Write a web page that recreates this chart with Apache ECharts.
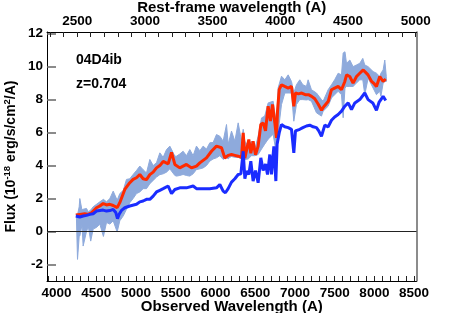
<!DOCTYPE html>
<html><head><meta charset="utf-8">
<script src="https://cdn.jsdelivr.net/npm/echarts@6/dist/echarts.min.js"></script>
<style>html,body{margin:0;padding:0;background:#fff}#c{width:463px;height:313px}</style>
</head><body><div id="c"></div>
<script>
const redshift = 0.704;
const obsMin = 3880, obsMax = 8530;
const obsLabels = [4000,4500,5000,5500,6000,6500,7000,7500,8000,8500];
const restLabels = [2500,3000,3500,4000,4500,5000];
const yLabels = [-2,0,2,4,6,8,10,12];

const bandWave = [4250,4264,4285,4293,4320,4335,4377,4400,4430,4461,4503,4545,4590,4629,4671,4713,4763,4796,4840,4880,4922,4964,5006,5048,5090,5132,5174,5216,5258,5300,5342,5384,5426,5489,5510,5551,5593,5635,5677,5719,5761,5803,5845,5887,5929,5971,6013,6055,6097,6139,6160,6181,6202,6244,6286,6328,6349,6370,6412,6454,6496,6537,6580,6620,6663,6726,6768,6789,6831,6873,6915,6957,6986,7019,7061,7100,7145,7166,7208,7271,7334,7355,7418,7460,7500,7544,7586,7607,7630,7649,7691,7732,7774,7816,7854,7879,7921,7984,8026,8068,8082,8110,8131,8150];
const bandLow = [0.9,-1.69,-0.3,-0.27,0.4,-0.88,0.0,0.3,-0.58,0.15,0.25,0.45,-0.3,0.55,0.45,0.65,-0.03,0.65,0.95,1.35,1.75,2.0,2.3,2.4,2.6,2.6,2.9,3.1,3.3,3.45,3.5,3.6,3.8,3.4,3.36,3.4,3.46,3.4,3.36,3.5,3.76,3.8,3.86,4.0,4.27,4.4,4.47,4.6,4.37,4.5,4.4,4.5,4.55,4.5,4.5,4.4,4.6,4.37,4.4,4.6,4.6,4.67,5.0,5.3,5.6,5.9,4.67,6.0,7.7,8.4,8.4,8.4,6.69,7.7,8.0,8.0,7.98,8.0,7.9,7.2,7.0,7.3,7.6,8.1,8.3,8.5,8.3,6.9,8.7,8.8,8.8,8.8,9.0,9.2,9.2,8.3,9.3,8.7,8.3,8.5,8.2,9.0,9.1,9.1];
const bandHigh = [1.05,1.0,1.5,2.0,1.3,1.35,1.4,1.2,1.3,1.5,1.65,1.8,1.95,1.8,2.0,2.45,1.9,2.3,2.5,3.16,3.2,3.46,3.7,3.97,3.75,3.55,4.37,4.0,4.17,4.77,4.5,4.97,5.18,4.57,4.57,4.7,4.87,4.6,4.97,4.6,5.18,4.9,5.18,5.0,5.38,5.4,5.88,5.78,5.48,6.49,5.3,5.68,6.09,5.48,6.59,5.48,6.2,5.48,5.18,5.48,4.98,5.78,6.89,7.0,7.8,7.9,6.49,8.71,9.42,9.2,9.5,9.1,8.4,8.9,9.2,8.9,8.8,9.2,8.6,8.4,8.0,7.9,8.6,8.9,9.2,9.6,9.5,10.83,10.9,10.2,10.4,10.0,10.1,10.2,10.5,10.1,10.0,9.7,9.6,9.4,9.6,9.8,10.4,9.4];

const redWave = [4243,4293,4356,4398,4440,4503,4545,4587,4629,4671,4713,4763,4796,4859,4922,4964,5006,5048,5090,5132,5174,5216,5258,5300,5342,5405,5447,5489,5551,5635,5698,5761,5803,5887,5950,6013,6034,6076,6118,6160,6202,6244,6286,6328,6349,6370,6391,6420,6445,6474,6504,6537,6571,6600,6630,6663,6692,6718,6747,6768,6781,6802,6830,6872,6915,6957,6986,7007,7045,7085,7130,7170,7210,7250,7290,7335,7360,7420,7460,7500,7544,7586,7628,7650,7690,7732,7775,7816,7860,7880,7920,7965,8000,8026,8068,8110,8143];
const redFlux = [1.00,1.04,1.08,1.04,1.14,1.44,1.55,1.70,1.61,1.65,1.58,1.45,1.75,2.55,2.96,3.16,3.26,3.46,3.20,3.15,3.45,3.60,3.86,4.00,4.25,4.10,4.80,4.07,3.86,4.07,3.86,3.97,4.16,4.47,4.87,5.18,5.28,5.08,4.45,4.62,4.67,4.62,4.57,4.50,5.98,4.45,4.40,5.58,4.75,5.48,4.65,5.18,6.49,6.59,6.10,7.60,6.70,7.70,6.60,5.68,7.30,8.60,8.90,8.80,8.70,8.80,7.60,8.40,8.35,8.40,8.30,8.30,8.20,8.05,7.75,7.35,7.55,7.90,8.60,8.70,8.80,8.60,9.10,9.50,9.40,9.00,9.40,9.60,9.80,9.90,9.50,9.10,8.95,8.80,9.40,9.10,9.25];

const blueWave = [4243,4293,4335,4377,4420,4461,4503,4545,4587,4629,4671,4713,4746,4767,4788,4817,4859,4922,5006,5048,5090,5132,5174,5216,5258,5300,5342,5405,5447,5489,5551,5635,5719,5761,5845,5929,6013,6055,6097,6125,6160,6202,6244,6286,6320,6349,6370,6391,6420,6445,6474,6504,6537,6571,6600,6630,6655,6684,6705,6735,6760,6776,6802,6830,6872,6915,6957,6986,7007,7061,7100,7145,7187,7229,7271,7300,7334,7376,7418,7460,7500,7544,7586,7628,7670,7712,7754,7816,7879,7921,7980,8026,8060,8110,8143];
const blueFlux = [0.94,0.88,0.94,0.98,1.04,1.08,1.24,1.27,1.30,1.24,1.27,1.34,1.15,0.78,1.05,1.28,1.44,1.55,1.65,1.80,1.85,1.95,1.95,2.15,2.40,2.50,2.60,2.76,2.30,2.55,2.65,2.65,2.76,2.60,2.60,2.60,2.65,2.85,2.45,2.35,2.60,3.00,3.20,3.46,3.50,4.87,3.20,3.67,3.46,4.27,3.06,3.70,2.96,4.47,3.70,4.10,3.46,4.67,3.46,5.17,3.06,5.30,5.98,6.49,6.35,6.30,6.20,4.77,6.10,6.20,6.30,6.40,6.45,6.35,6.30,6.10,5.78,6.45,6.35,6.75,6.95,7.10,7.30,7.60,7.80,7.40,7.80,8.00,8.40,8.00,7.80,7.35,7.85,8.20,7.95];

function range(a,b,s){const r=[];for(let k=0;a+k*s<=b+1e-9;k++)r.push(a+k*s);return r;}

const chart = echarts.init(document.getElementById('c'), null, {renderer:'canvas'});
const FONT = 'Liberation Sans';
const lbl = {fontFamily:FONT, fontWeight:'bold', fontSize:13.5, color:'#000', formatter:v=>String(v)};
const nameStyle = {fontFamily:FONT, fontWeight:'bold', fontSize:15, color:'#000'};

chart.setOption({
  animation:false,
  backgroundColor:'#fff',
  grid:{left:47, right:46.5, top:32, bottom:32, containLabel:false, outerBoundsMode:'none'},
  xAxis:[
    {type:'value', position:'bottom', min:obsMin, max:obsMax,
     name:'Observed Wavelength (A)', nameLocation:'middle', nameGap:18, nameMoveOverlap:false, nameTextStyle:nameStyle,
     axisLine:{show:true, onZero:false, lineStyle:{color:'#000', width:1}},
     axisTick:{show:true, inside:true, length:5, customValues:range(3900,8500,100), lineStyle:{color:'#222', width:1}},
     axisLabel:Object.assign({margin:5, customValues:obsLabels}, lbl),
     splitLine:{show:false}},
    {type:'value', position:'top', min:obsMin/(1+redshift), max:obsMax/(1+redshift),
     name:'Rest-frame wavelength (A)', nameLocation:'middle', nameGap:17, nameMoveOverlap:false, nameTextStyle:nameStyle,
     axisLine:{show:true, onZero:false, lineStyle:{color:'#000', width:1}},
     axisTick:{show:true, inside:true, length:5, customValues:range(2300,5000,100), lineStyle:{color:'#222', width:1}},
     axisLabel:Object.assign({margin:4, customValues:restLabels}, lbl),
     splitLine:{show:false}}
  ],
  yAxis:[
    {type:'value', position:'left', min:-3, max:12.1,
     name:'{a|Flux (10}{s|-18}{a| erg/s/cm}{s|2}{a|/A)}', nameLocation:'middle', nameGap:27, nameMoveOverlap:false,
     nameTextStyle:{fontFamily:FONT, fontWeight:'bold', fontSize:14, color:'#000',
       rich:{a:{fontFamily:FONT, fontWeight:'bold', fontSize:14, lineHeight:18, color:'#000'},
             s:{fontFamily:FONT, fontWeight:'bold', fontSize:9.5, lineHeight:10, verticalAlign:'top', color:'#000'}}},
     axisLine:{show:true, onZero:false, lineStyle:{color:'#000', width:1}},
     axisTick:{show:true, inside:true, length:9, customValues:yLabels, lineStyle:{color:'#666', width:1.5}},
     axisLabel:Object.assign({margin:4, customValues:yLabels}, lbl),
     splitLine:{show:false}},
    {type:'value', position:'right', min:-3, max:12.1,
     axisLine:{show:true, onZero:false, lineStyle:{color:'#666', width:1.5}},
     axisTick:{show:false}, axisLabel:{show:false}, splitLine:{show:false}}
  ],
  graphic:[
    {type:'text', left:76, top:53, style:{text:'04D4ib', font:'bold 14px "Liberation Sans"', fill:'#000'}},
    {type:'text', left:76, top:77, style:{text:'z=' + redshift.toFixed(3), font:'bold 14px "Liberation Sans"', fill:'#000'}}
  ],
  series:[
    {type:'custom', name:'band', coordinateSystem:'cartesian2d', z:1,
     data:[[bandWave[0], bandLow[0]]],
     renderItem:function(params, api){
       const pts = [];
       for (let i=0;i<bandWave.length;i++) pts.push(api.coord([bandWave[i], bandHigh[i]]));
       for (let i=bandWave.length-1;i>=0;i--) pts.push(api.coord([bandWave[i], bandLow[i]]));
       return {type:'polygon', shape:{points:pts}, style:{fill:'#8eaadc', stroke:'#8eaadc', lineWidth:1}};
     },
     markLine:{silent:true, symbol:['none','none'], label:{show:false},
       lineStyle:{color:'#222', width:1, type:'solid'}, data:[{yAxis:0}]}},
    {type:'line', name:'red', symbol:'none', data:redWave.map((w,i)=>[w, redFlux[i]]),
     lineStyle:{width:3, color:'#ff2a00'}, z:3},
    {type:'line', name:'blue', symbol:'none', data:blueWave.map((w,i)=>[w, blueFlux[i]]),
     lineStyle:{width:3, color:'#1a2cff'}, z:4}
  ]
});
</script></body></html>
